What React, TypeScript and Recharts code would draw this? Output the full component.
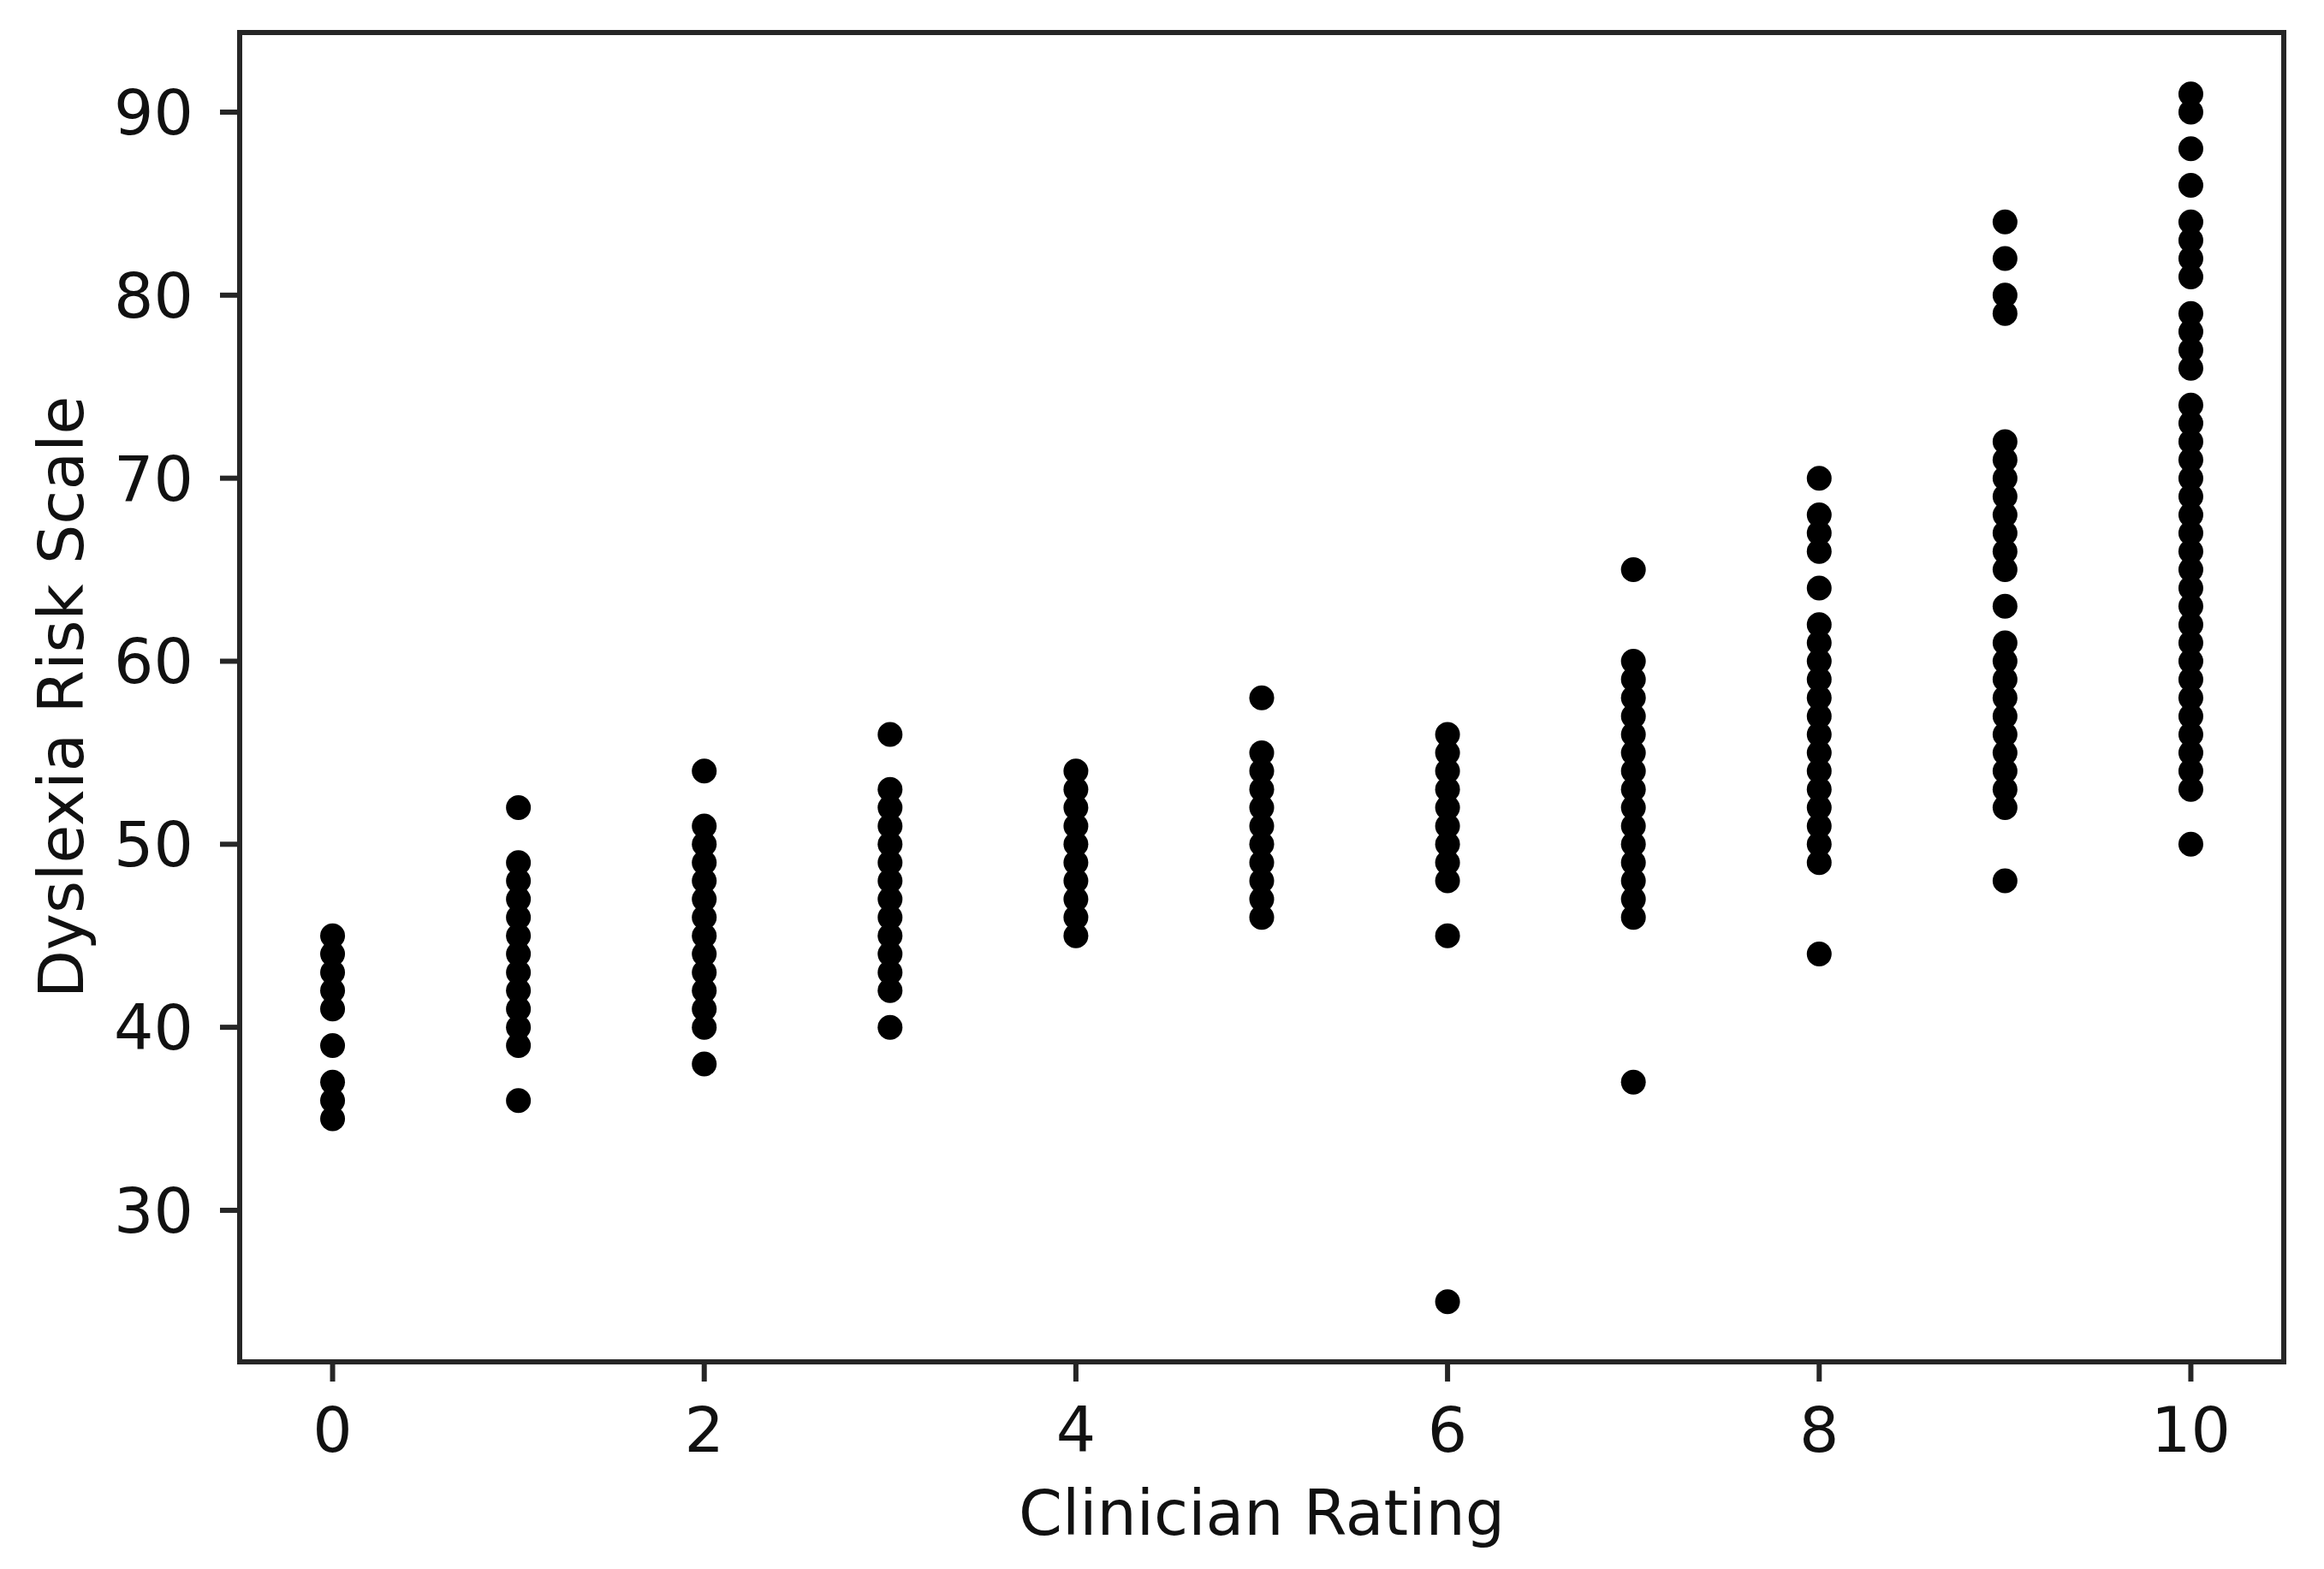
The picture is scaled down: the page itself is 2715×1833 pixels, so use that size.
import React from "react";
import {
  ScatterChart,
  Scatter,
  XAxis,
  YAxis,
  ReferenceArea,
} from "recharts";

// Dyslexia Risk Scale scores per clinician rating
const rating0 = [35, 36, 37, 39, 41, 42, 43, 44, 45];
const rating1 = [36, 39, 40, 41, 42, 43, 44, 45, 46, 47, 48, 49, 52];
const rating2 = [38, 40, 41, 42, 43, 44, 45, 46, 47, 48, 49, 50, 51, 54];
const rating3 = [40, 42, 43, 44, 45, 46, 47, 48, 49, 50, 51, 52, 53, 56];
const rating4 = [45, 46, 47, 48, 49, 50, 51, 52, 53, 54];
const rating5 = [46, 47, 48, 49, 50, 51, 52, 53, 54, 55, 58];
const rating6 = [25, 45, 48, 49, 50, 51, 52, 53, 54, 55, 56];
const rating7 = [37, 46, 47, 48, 49, 50, 51, 52, 53, 54, 55, 56, 57, 58, 59, 60, 65];
const rating8 = [44, 49, 50, 51, 52, 53, 54, 55, 56, 57, 58, 59, 60, 61, 62, 64, 66, 67, 68, 70];
const rating9 = [48, 52, 53, 54, 55, 56, 57, 58, 59, 60, 61, 63, 65, 66, 67, 68, 69, 70, 71, 72, 79, 80, 82, 84];
const rating10 = [
  50, 53, 54, 55, 56, 57, 58, 59, 60, 61, 62, 63, 64, 65, 66, 67, 68, 69, 70, 71, 72, 73, 74,
  76, 77, 78, 79, 81, 82, 83, 84, 86, 88, 90, 91,
];

const scoresByRating = [
  rating0, rating1, rating2, rating3, rating4, rating5,
  rating6, rating7, rating8, rating9, rating10,
];

const xTicks = [0, 2, 4, 6, 8, 10];
const yTicks = [30, 40, 50, 60, 70, 80, 90];

const points = scoresByRating.flatMap((scores, rating) =>
  scores.map((drs) => ({ x: rating, y: drs }))
);

const FONT = "'DejaVu Sans', sans-serif";
const INK = "#262626";
const tickStyle = { fontSize: 73, fontFamily: FONT, fill: "#111" };

const Dot = (props: any) => <circle cx={props.cx} cy={props.cy} r={14.5} fill="#000" />;

export default function App() {
  return (
    <div style={{ position: "absolute", left: 0, top: 0, width: 2715, height: 1833, background: "#fff" }}>
      <ScatterChart
        width={2715}
        height={1833}
        margin={{ top: 38, right: 47, bottom: 0, left: 0 }}
      >
        <XAxis
          type="number"
          dataKey="x"
          domain={[-0.5, 10.5]}
          ticks={xTicks}
          allowDataOverflow
          height={242}
          tick={tickStyle}
          tickSize={23}
          tickMargin={30}
          tickLine={{ stroke: INK, strokeWidth: 6 }}
          axisLine={{ stroke: INK, strokeWidth: 6 }}
          label={{
            content: ({ viewBox }: any) => (
              <text
                x={viewBox.x + viewBox.width / 2}
                y={1793}
                textAnchor="middle"
                style={{ fontSize: 73, fontFamily: FONT, fill: "#111" }}
              >
                Clinician Rating
              </text>
            ),
          }}
        />
        <YAxis
          type="number"
          dataKey="y"
          domain={[21.72, 94.35]}
          ticks={yTicks}
          allowDataOverflow
          width={280}
          tick={tickStyle}
          tickSize={23}
          tickMargin={31}
          tickLine={{ stroke: INK, strokeWidth: 6 }}
          axisLine={{ stroke: INK, strokeWidth: 6 }}
          label={{
            content: ({ viewBox }: any) => {
              const cy = viewBox.y + viewBox.height / 2;
              return (
                <text
                  x={97}
                  y={cy}
                  transform={`rotate(-90, 97, ${cy})`}
                  textAnchor="middle"
                  style={{ fontSize: 73, fontFamily: FONT, fill: "#111" }}
                >
                  Dyslexia Risk Scale
                </text>
              );
            },
          }}
        />
        <ReferenceArea
          x1={-0.5}
          x2={10.5}
          y1={21.72}
          y2={94.35}
          fill="none"
          stroke={INK}
          strokeWidth={6}
          ifOverflow="visible"
        />
        <Scatter data={points} shape={Dot} isAnimationActive={false} />
      </ScatterChart>
    </div>
  );
}
